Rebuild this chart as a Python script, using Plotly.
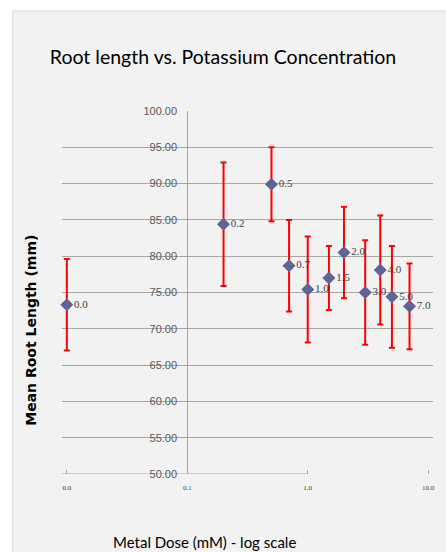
import plotly.graph_objects as go

# Data
dose_labels = ["0.0", "0.2", "0.5", "0.7", "1.0", "1.5", "2.0", "3.0", "4.0", "5.0", "7.0"]
dose_positions = [0.01, 0.2, 0.5, 0.7, 1.0, 1.5, 2.0, 3.0, 4.0, 5.0, 7.0]  # 0.0 drawn at 0.01 on log axis
mean_length = [73.3, 84.4, 89.9, 78.7, 75.4, 77.0, 80.5, 75.0, 78.1, 74.4, 73.1]
error = [6.3, 8.5, 5.1, 6.3, 7.3, 4.4, 6.3, 7.2, 7.5, 7.0, 5.9]

x_tickvals = [0.01, 0.1, 1, 10]
x_ticktext = ["0.0", "0.1", "1.0", "10.0"]

W, H = 446, 552
# pixel positions of log10 = -2 and +1
X_LO, X_HI = 67, 428
decade = (X_HI - X_LO) / 3.0
PAD = 0.04  # decades of padding so edge error bars are not clipped
L = X_LO - PAD * decade
R = W - (X_HI + PAD * decade)
T, B = 111, 78
pw, ph = W - L - R, H - T - B

def px2x(px):
    return (px - L) / pw

def py2y(py):
    return (H - B - py) / ph

fig = go.Figure()
fig.add_trace(go.Scatter(
    x=dose_positions, y=mean_length,
    mode="markers+text",
    text=dose_labels,
    textposition="middle right",
    textfont=dict(family="Liberation Serif", size=11, color="#404040"),
    marker=dict(symbol="diamond", size=10, color="#5f6496"),
    error_y=dict(type="data", array=error, visible=True, color="#ff0000", thickness=2, width=3),
    showlegend=False,
    cliponaxis=False,
))

fig.add_shape(type="rect", xref="paper", yref="paper",
              x0=px2x(13), x1=px2x(460), y0=py2y(570), y1=py2y(11),
              fillcolor="#f2f2f2", line=dict(color="#d4d4d4", width=1), layer="below")
# x axis line from 0.01 to 10
fig.add_shape(type="line", xref="x", yref="y", x0=-2, x1=1, y0=50, y1=50,
              line=dict(color="#a6a6a6", width=1), layer="below")

fig.update_layout(
    width=W, height=H,
    margin=dict(l=L, r=R, t=T, b=B),
    paper_bgcolor="white",
    plot_bgcolor="rgba(0,0,0,0)",
    title=dict(text="Root length vs. Potassium Concentration",
               font=dict(family="Lato", size=19.5, color="#000000"),
               x=223 / W, xref="container", xanchor="center", y=1 - 57 / H, yanchor="middle"),
    xaxis=dict(type="log", range=[-2 - PAD, 1 + PAD], tickvals=x_tickvals, ticktext=x_ticktext,
               showgrid=False, zeroline=False, showline=False,
               ticks="inside", ticklen=4, tickcolor="#a6a6a6", ticklabelstandoff=8,
               tickfont=dict(family="Liberation Serif", size=7, color="#404040")),
    yaxis=dict(range=[50, 100], dtick=5, tickformat=".2f",
               anchor="free", position=px2x(X_LO + decade),
               showgrid=True, gridcolor="#a6a6a6", gridwidth=1,
               showline=True, linecolor="#a6a6a6", linewidth=1, zeroline=False,
               ticks="outside", ticklen=8, tickcolor="rgba(0,0,0,0)",
               tickfont=dict(family="Liberation Sans", size=11, color="#595959")),
)

fig.add_annotation(text="<b>Mean Root Length (mm)</b>", xref="paper", yref="paper",
                   x=px2x(31), y=py2y(330), textangle=-90, showarrow=False,
                   font=dict(family="DejaVu Sans", size=14, color="#000000"),
                   xanchor="center", yanchor="middle")
fig.add_annotation(text="Metal Dose (mM) - log scale", xref="paper", yref="paper",
                   x=px2x(205), y=py2y(542), showarrow=False,
                   font=dict(family="Lato", size=15, color="#000000"),
                   xanchor="center", yanchor="middle")

fig.write_html("out.html")
